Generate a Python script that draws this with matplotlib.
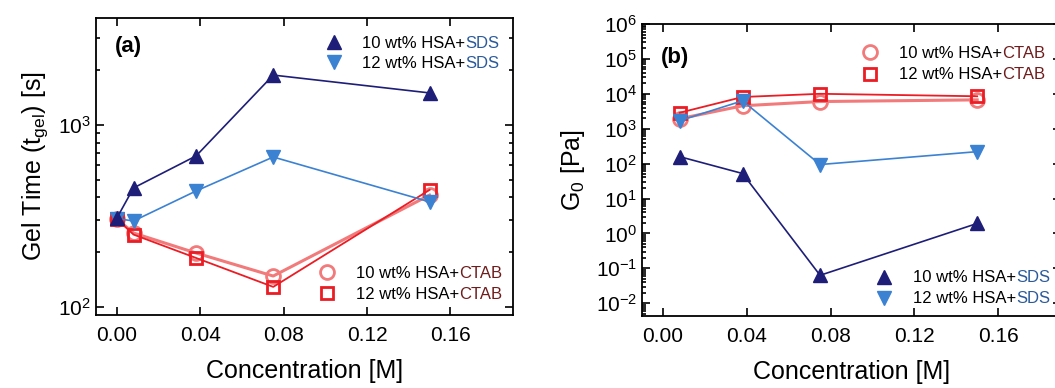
import matplotlib
matplotlib.use('Agg')
import matplotlib.pyplot as plt
from matplotlib.ticker import LogLocator, NullFormatter

plt.rcParams['font.family'] = ['Liberation Sans', 'DejaVu Sans']
plt.rcParams['mathtext.fontset'] = 'custom'
plt.rcParams['mathtext.rm'] = 'Liberation Sans'
plt.rcParams['mathtext.it'] = 'Liberation Sans:italic'

# panel (a): gel time
conc_a = [0.0, 0.008, 0.038, 0.075, 0.15]
gel_sds10 = [308, 451, 676, 1880, 1500]
gel_sds12 = [306, 297, 434, 667, 378]
gel_ctab10 = [305, 255, 198, 148, 412]
gel_ctab12 = [305, 250, 186, 129, 440]

# panel (b): G0
conc_b = [0.008, 0.038, 0.075, 0.15]
g0_sds10 = [158, 52, 0.063, 1.93]
g0_sds12 = [1700, 6300, 94, 220]
g0_ctab10 = [1930, 4540, 6000, 6700]
g0_ctab12 = [2870, 8100, 10000, 8500]

NAVY = '#1e1e78'
BLUE = '#3c82d2'
LRED = '#f27a7a'
RED = '#ec1c24'
SDS_TXT = '#2a5a9a'
CTAB_TXT = '#6e1c1c'

fig = plt.figure(figsize=(10.55, 3.88), dpi=100)
ax1 = fig.add_axes([96 / 1055, 73 / 388, 417 / 1055, 297 / 388])
ax2 = fig.add_axes([642 / 1055, 72 / 388, 419 / 1055, 292 / 388])


def style(ax):
    ax.tick_params(which='both', direction='in', top=True, right=True,
                   labelsize=15, width=1.2)
    ax.tick_params(which='major', length=6)
    ax.tick_params(which='minor', length=3)
    for s in ax.spines.values():
        s.set_linewidth(1.3)
    ax.set_xlim(-0.01, 0.19)
    ax.set_xticks([0.0, 0.04, 0.08, 0.12, 0.16])
    ax.set_xticklabels(['0.00', '0.04', '0.08', '0.12', '0.16'])
    ax.tick_params(axis='x', pad=8)
    ax.set_xlabel('Concentration [M]', fontsize=18, labelpad=10)


pending = []


def legend_entry(ax, x, y, marker, mkw, label, tag, tag_color):
    ax.plot([x], [y], marker=marker, linestyle='none', transform=ax.transAxes,
            clip_on=False, **mkw)
    t = ax.text(x + 0.069, y - 0.02, label, transform=ax.transAxes, fontsize=12,
                va='baseline', ha='left')
    pending.append((ax, t, y - 0.02, tag, tag_color))


sds10_kw = dict(color=NAVY, markersize=10)
sds12_kw = dict(color=BLUE, markersize=10)
ctab10_kw = dict(color=LRED, markerfacecolor='none', markeredgewidth=2, markersize=10)
ctab12_kw = dict(color=RED, markerfacecolor='none', markeredgewidth=2, markersize=8.5)

ax1.plot(conc_a, gel_ctab10, marker='o', linewidth=2.2, **ctab10_kw)
ax1.plot(conc_a, gel_ctab12, marker='s', linewidth=1.3, **ctab12_kw)
ax1.plot(conc_a, gel_sds12, marker='v', linewidth=1.2, **sds12_kw)
ax1.plot(conc_a, gel_sds10, marker='^', linewidth=1.2, **sds10_kw)
ax1.set_yscale('log')
ax1.set_ylim(90.4, 3870)
ax1.yaxis.set_minor_locator(LogLocator(base=10, subs=range(2, 10)))
ax1.yaxis.set_minor_formatter(NullFormatter())
style(ax1)
ax1.set_ylabel('Gel Time (t$_{\\mathrm{gel}}$) [s]', fontsize=18, labelpad=6)
ax1.text(0.045, 0.905, '(a)', transform=ax1.transAxes, fontsize=16,
         fontweight='bold', va='center')
legend_entry(ax1, 0.57, 0.92, '^', sds10_kw, '10 wt% HSA+', 'SDS', SDS_TXT)
legend_entry(ax1, 0.57, 0.853, 'v', sds12_kw, '12 wt% HSA+', 'SDS', SDS_TXT)
legend_entry(ax1, 0.554, 0.145, 'o', ctab10_kw, '10 wt% HSA+', 'CTAB', CTAB_TXT)
legend_entry(ax1, 0.554, 0.075, 's', ctab12_kw, '12 wt% HSA+', 'CTAB', CTAB_TXT)

ax2.plot(conc_b, g0_ctab10, marker='o', linewidth=2.2, **ctab10_kw)
ax2.plot(conc_b, g0_ctab12, marker='s', linewidth=1.3, **ctab12_kw)
ax2.plot(conc_b, g0_sds12, marker='v', linewidth=1.2, **sds12_kw)
ax2.plot(conc_b, g0_sds10, marker='^', linewidth=1.2, **sds10_kw)
ax2.set_yscale('log')
ax2.set_ylim(0.0043, 1e6)
ax2.set_yticks([10.0 ** k for k in range(-2, 7)])
ax2.yaxis.set_minor_locator(LogLocator(base=10, subs=range(2, 10), numticks=20))
ax2.yaxis.set_minor_formatter(NullFormatter())
style(ax2)
ax2.set_ylabel('G$_0$ [Pa]', fontsize=18, labelpad=6)
ax2.text(0.045, 0.885, '(b)', transform=ax2.transAxes, fontsize=16,
         fontweight='bold', va='center')
legend_entry(ax2, 0.545, 0.905, 'o', ctab10_kw, '10 wt% HSA+', 'CTAB', CTAB_TXT)
legend_entry(ax2, 0.545, 0.83, 's', ctab12_kw, '12 wt% HSA+', 'CTAB', CTAB_TXT)
legend_entry(ax2, 0.577, 0.135, '^', sds10_kw, '10 wt% HSA+', 'SDS', SDS_TXT)
legend_entry(ax2, 0.577, 0.063, 'v', sds12_kw, '12 wt% HSA+', 'SDS', SDS_TXT)

# coloured surfactant names go right after the black part of each label
fig.canvas.draw()
renderer = fig.canvas.get_renderer()
for ax, t, y, tag, tag_color in pending:
    x1 = t.get_window_extent(renderer).x1
    xa = ax.transAxes.inverted().transform((x1, 0))[0]
    ax.text(xa, y, tag, transform=ax.transAxes, fontsize=12, va='baseline',
            ha='left', color=tag_color)

fig.savefig('out.png', dpi=100)
